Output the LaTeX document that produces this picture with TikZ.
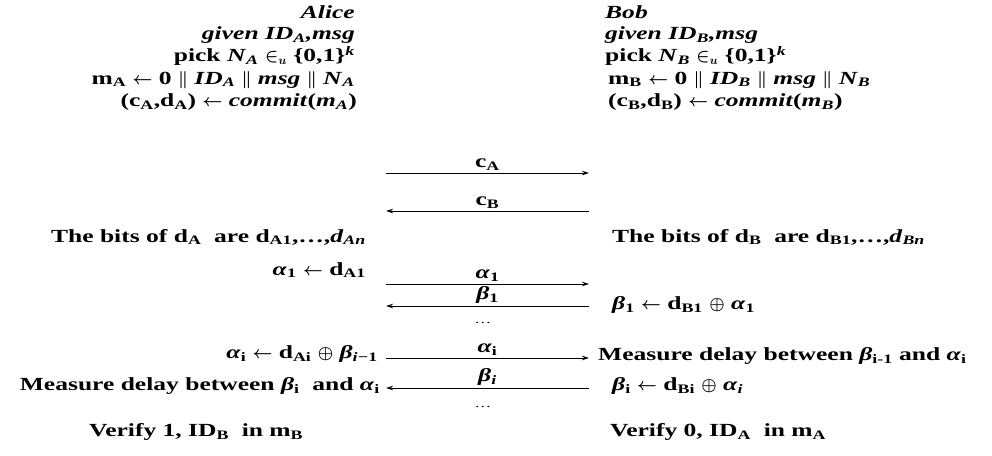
\documentclass[tikz,border=0pt]{standalone}
\usepackage{amsmath}
\usepackage{fontspec}
\setmainfont{Liberation Serif}[FakeStretch=1.38]
\usetikzlibrary{arrows.meta}
\newcommand{\sbx}[1]{\textsubscript{#1}}
\newcommand{\sbi}[1]{\textsubscript{\textit{#1}}}
\newcommand{\al}{\textit{α}}
\newcommand{\be}{\textit{β}}
\newcommand{\la}{ $\leftarrow$ }
\begin{document}
\begin{tikzpicture}[x=1pt,y=-1pt,
  every node/.style={font=\bfseries\boldmath\fontsize{18.5}{20}\selectfont, inner sep=0pt},
  lcol/.style={anchor=east},
  rcol/.style={anchor=west},
  msg/.style={line width=0.9pt, -{Stealth[length=7pt,width=4.5pt]}},
  lbl/.style={above, inner sep=2pt}]
\useasboundingbox (0,0) rectangle (992,455);
% Alice column
\node[lcol] (a1) at (355,12) {\textit{Alice}};
\node[lcol] (a2) at (355,35) {\textit{given ID\sbi{A},msg}};
\node[lcol] (a3) at (355,56) {pick \textit{N}\sbi{A} $\in_u$ \{0,1\}\textsuperscript{\textit{k}}};
\node[lcol] (a4) at (355,80) {m\sbx{A}\la 0 $\|$ \textit{ID}\sbi{A} $\|$ \textit{msg} $\|$ \textit{N}\sbi{A}};
\node[lcol] (a5) at (357,102) {(c\sbx{A},d\sbx{A})\la\textit{commit}(\textit{m}\sbi{A})};
% Bob column
\node[rcol] (b1) at (605,12) {\textit{Bob}};
\node[rcol] (b2) at (605,35) {\textit{given ID\sbi{B},msg}};
\node[rcol] (b3) at (605,56) {pick \textit{N}\sbi{B} $\in_u$ \{0,1\}\textsuperscript{\textit{k}}};
\node[rcol] (b4) at (608,80) {m\sbx{B}\la 0 $\|$ \textit{ID}\sbi{B} $\|$ \textit{msg} $\|$ \textit{N}\sbi{B}};
\node[rcol] (b5) at (608,102) {(c\sbx{B},d\sbx{B})\la\textit{commit}(\textit{m}\sbi{B})};
% bits
\node[lcol] (a6) at (366,237) {The bits of d\sbx{A}\ \ are d\sbx{A1},\dots,\textit{d}\sbi{An}};
\node[rcol] (b6) at (612,237) {The bits of d\sbx{B}\ \ are d\sbx{B1},\dots,\textit{d}\sbi{Bn}};
\node[lcol] (a7) at (366,270) {\al\sbx{1}\la d\sbx{A1}};
\node[rcol] (b7) at (612,305) {\be\sbx{1}\la d\sbx{B1} $\oplus$ \al\sbx{1}};
\node[lcol] (a8) at (378,354) {\al\sbx{i}\la d\sbx{Ai} $\oplus$ \be\sbi{i}\sbx{−1}};
\node[lcol] (a9) at (380,386) {Measure delay between \be\sbx{i}\ \ and \al\sbx{i}};
\node[rcol] (b8) at (598,356) {Measure delay between \be\sbx{i-1} and \al\sbx{i}};
\node[rcol] (b9) at (612,386) {\be\sbx{i}\la d\sbx{Bi} $\oplus$ \al\sbi{i}};
\node[anchor=west] (a10) at (89,432) {Verify 1, ID\sbx{B}\ \ in m\sbx{B}};
\node[anchor=west] (b10) at (610,432) {Verify 0, ID\sbx{A}\ \ in m\sbx{A}};
\node (d1) at (483,323) {\fontsize{12}{12}\selectfont\mdseries\dots};
\node (d2) at (483,407) {\fontsize{12}{12}\selectfont\mdseries\dots};
% arrow endpoints
\coordinate (L1) at (386,173); \coordinate (R1) at (589,173);
\coordinate (L2) at (386,211); \coordinate (R2) at (589,211);
\coordinate (L3) at (386,284); \coordinate (R3) at (589,284);
\coordinate (L4) at (386,306); \coordinate (R4) at (589,306);
\coordinate (L5) at (386,358); \coordinate (R5) at (589,358);
\coordinate (L6) at (386,388); \coordinate (R6) at (589,388);
\draw[msg] (L1) -- node[lbl] {c\sbx{A}} (R1);
\draw[msg] (R2) -- node[lbl] {c\sbx{B}} (L2);
\draw[msg] (L3) -- node[lbl] {\al\sbx{1}} (R3);
\draw[msg] (R4) -- node[lbl] {\be\sbx{1}} (L4);
\draw[msg] (L5) -- node[lbl] {\al\sbx{i}} (R5);
\draw[msg] (R6) -- node[lbl] {\be\sbi{i}} (L6);
\end{tikzpicture}
\end{document}
